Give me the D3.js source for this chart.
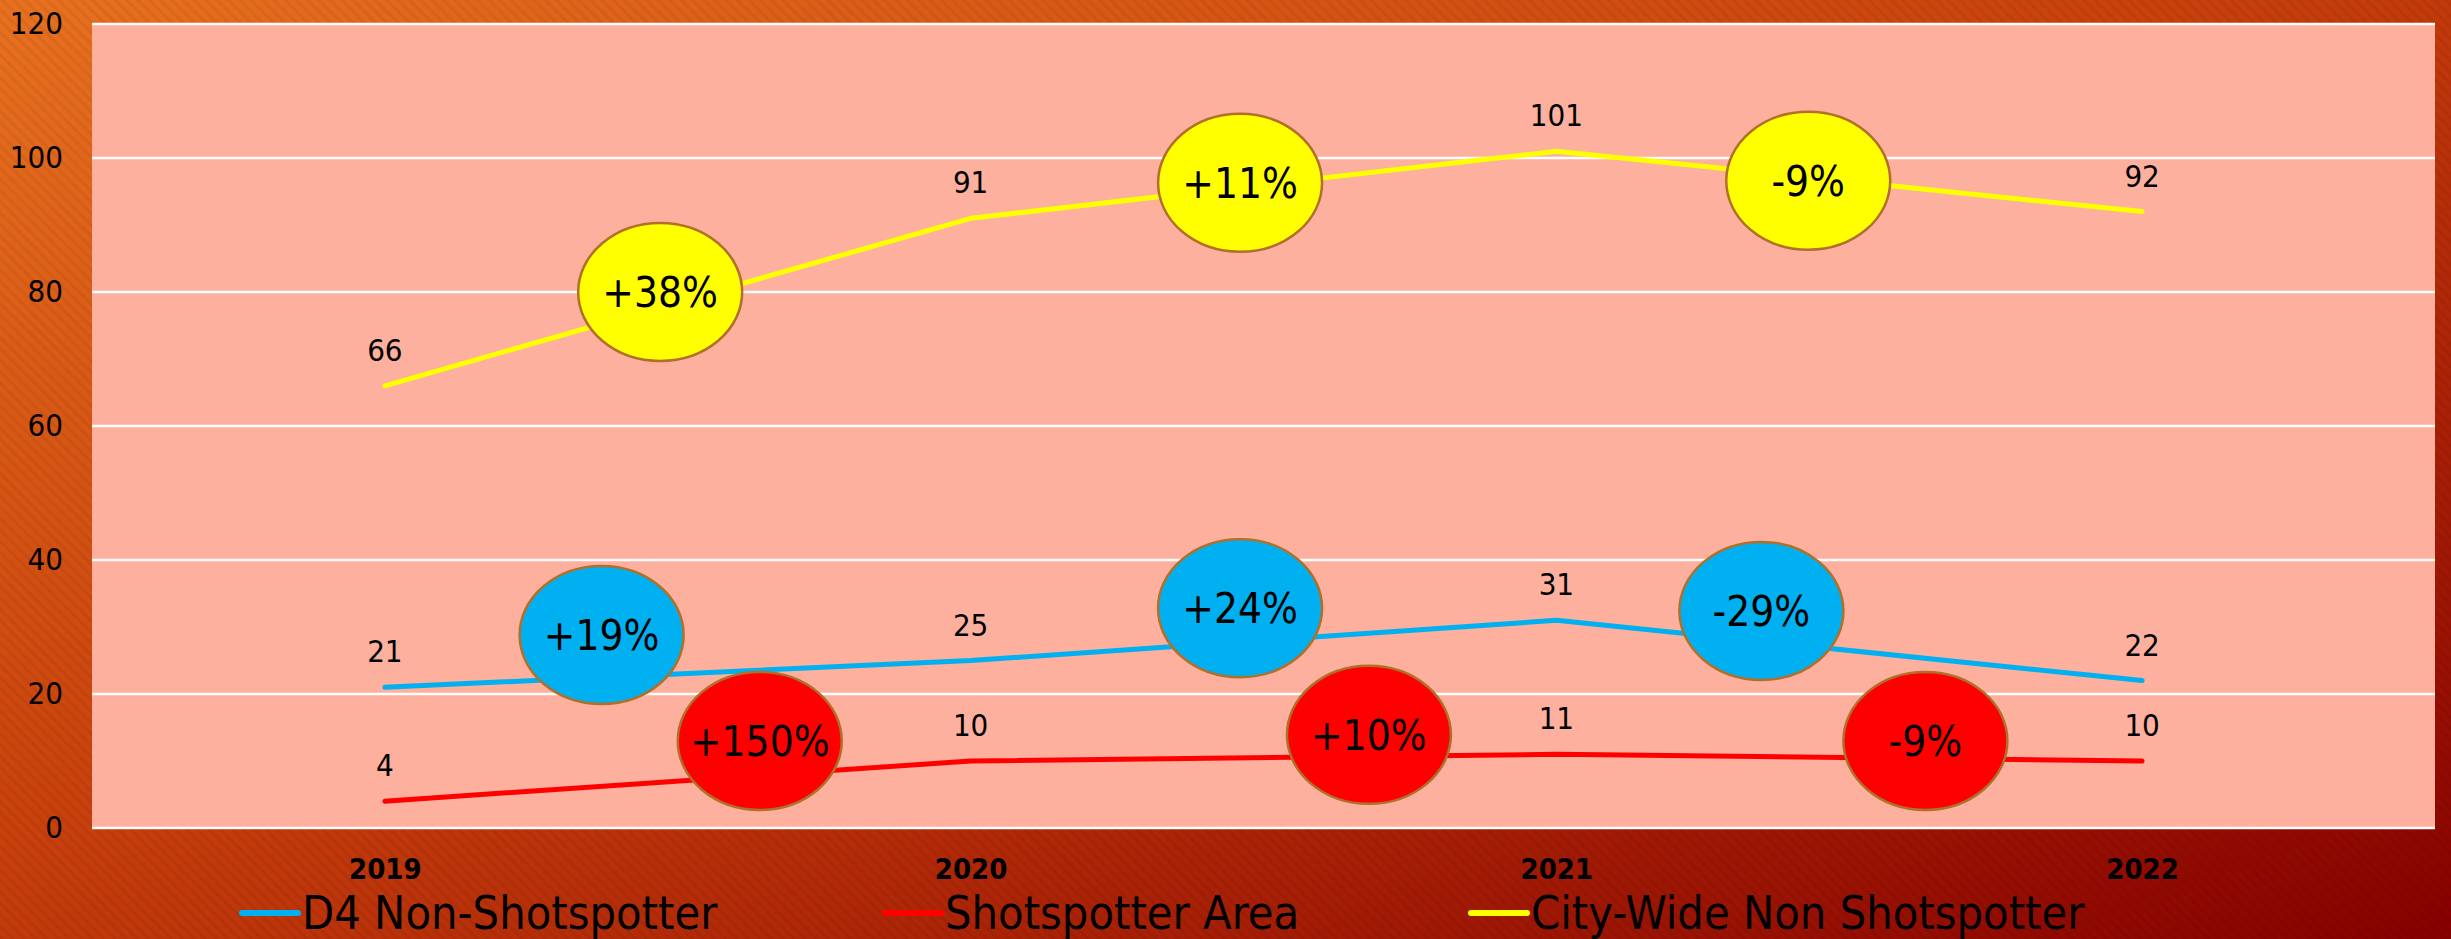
<!DOCTYPE html>
<html>
<head>
<meta charset="utf-8">
<script src="https://cdn.jsdelivr.net/npm/d3@7"></script>
<style>
  body { margin: 0; background: #8b0000; }
  svg { display: block; }
</style>
</head>
<body>
<div id="viz_container"></div>
<script>
//Data/////////////////////////////////////////////////////
const years = [2019, 2020, 2021, 2022];
const d4NonShotspotter = [21, 25, 31, 22];
const shotspotterArea = [4, 10, 11, 10];
const cityWideNonShotspotter = [66, 91, 101, 92];
const yTicks = [0, 20, 40, 60, 80, 100, 120];

// change bubbles: label, where they sit (in year / value units), which series
const bubbleLabels = ["+38%", "+11%", "-9%", "+19%", "+24%", "-29%", "+150%", "+10%", "-9%"];
const bubbleYears  = [2019.47, 2020.46, 2021.43, 2019.37, 2020.46, 2021.35, 2019.64, 2020.68, 2021.63];
const bubbleValues = [80, 96.3, 96.6, 28.8, 32.8, 32.4, 13, 13.9, 13];
const bubbleSeries = ["city", "city", "city", "d4", "d4", "d4", "shot", "shot", "shot"];

const seriesNames = ["D4 Non-Shotspotter", "Shotspotter Area", "City-Wide Non Shotspotter"];
const seriesKeys = ["d4", "shot", "city"];

// dimensions
const W = 2451, H = 939;
const margin = {top: 24, right: 16, bottom: 111, left: 92};
const width = W - margin.left - margin.right;
const height = H - margin.top - margin.bottom;

const font = "'DejaVu Sans', sans-serif";

const svg = d3.select("#viz_container")
  .append("svg")
    .attr("width", W)
    .attr("height", H)
    .style("font-family", font)
    .style("font-stretch", "condensed");

// background gradient + faint diagonal stripes
const defs = svg.append("defs");
const grad = defs.append("linearGradient")
    .attr("id", "bg")
    .attr("x1", "0%").attr("y1", "0%")
    .attr("x2", "100%").attr("y2", "100%");
grad.append("stop").attr("offset", "0%").attr("stop-color", "#e8711f");
grad.append("stop").attr("offset", "45%").attr("stop-color", "#c8400c");
grad.append("stop").attr("offset", "100%").attr("stop-color", "#870000");

const pat = defs.append("pattern")
    .attr("id", "stripes")
    .attr("width", 8).attr("height", 8)
    .attr("patternUnits", "userSpaceOnUse")
    .attr("patternTransform", "rotate(-45)");
pat.append("rect").attr("width", 3).attr("height", 8).attr("fill", "#000").attr("opacity", 0.05);

svg.append("rect").attr("width", W).attr("height", H).attr("fill", "url(#bg)");
svg.append("rect").attr("width", W).attr("height", H).attr("fill", "url(#stripes)");

const g = svg.append("g")
    .attr("transform", `translate(${margin.left},${margin.top})`);

// plot area
g.append("rect")
    .attr("width", width)
    .attr("height", height)
    .attr("fill", "#fcb09d");

// scales
const xScale = d3.scaleLinear()
    .domain([2018.5, 2022.5])
    .range([0, width]);

const yScale = d3.scaleLinear()
    .domain([0, 120])
    .range([height, 0]);

// gridlines
g.append("g")
  .selectAll("line")
  .data(yTicks)
  .join("line")
    .attr("x1", 0)
    .attr("x2", width)
    .attr("y1", d => yScale(d))
    .attr("y2", d => yScale(d))
    .attr("stroke", "#ffffff")
    .attr("stroke-width", 2.5);

// Y axis
const yAxis = g.append("g")
    .call(d3.axisLeft(yScale).tickValues(yTicks).tickSize(0).tickPadding(29));
yAxis.select(".domain").remove();
yAxis.selectAll("text")
    .style("font-family", font)
    .style("font-size", "31px")
    .attr("fill", "#000");

// X axis (year labels)
const xAxis = g.append("g")
    .attr("transform", `translate(0,${height})`)
    .call(d3.axisBottom(xScale).tickValues(years).tickFormat(d3.format("d")).tickSize(0).tickPadding(30));
xAxis.select(".domain").remove();
xAxis.selectAll("text")
    .style("font-family", font)
    .style("font-size", "29px")
    .style("font-weight", "bold")
    .attr("fill", "#000");

// series
const color = d3.scaleOrdinal()
    .domain(seriesKeys)
    .range(["#00b0f0", "#ff0000", "#ffff00"]);

const series = [
  {key: "d4", values: d4NonShotspotter},
  {key: "shot", values: shotspotterArea},
  {key: "city", values: cityWideNonShotspotter}
];

const line = d3.line()
    .x((d, i) => xScale(years[i]))
    .y(d => yScale(d));

// lines first (drawn under bubbles)
g.append("g")
  .selectAll("path")
  .data(series)
  .join("path")
    .attr("d", d => line(d.values))
    .attr("fill", "none")
    .attr("stroke", d => color(d.key))
    .attr("stroke-width", 5)
    .attr("stroke-linecap", "round")
    .attr("stroke-linejoin", "round");

// data labels
series.forEach(s => {
  g.append("g")
    .selectAll("text")
    .data(s.values)
    .join("text")
      .attr("x", (d, i) => xScale(years[i]))
      .attr("y", d => yScale(d) - 25)
      .attr("text-anchor", "middle")
      .style("font-size", "31px")
      .attr("fill", "#000")
      .text(d => d);
});

// bubbles
const bubbles = g.append("g")
  .selectAll("g")
  .data(bubbleLabels)
  .join("g")
    .attr("transform", (d, i) => `translate(${xScale(bubbleYears[i])},${yScale(bubbleValues[i])})`);

bubbles.append("ellipse")
    .attr("rx", 82)
    .attr("ry", 69)
    .attr("fill", (d, i) => color(bubbleSeries[i]))
    .attr("stroke", "#b0702a")
    .attr("stroke-width", 2.5);

bubbles.append("text")
    .attr("text-anchor", "middle")
    .attr("dy", "0.36em")
    .style("font-size", "42px")
    .attr("fill", "#000")
    .text(d => d);

// legend
const legendX = [242, 885, 1471];
const legend = svg.append("g")
  .selectAll("g")
  .data(seriesKeys)
  .join("g")
    .attr("transform", (d, i) => `translate(${legendX[i]},913)`);

legend.append("line")
    .attr("x1", 0)
    .attr("x2", 56)
    .attr("stroke", d => color(d))
    .attr("stroke-width", 6)
    .attr("stroke-linecap", "round");

legend.append("text")
    .attr("x", 60)
    .attr("y", 16)
    .style("font-size", "46.5px")
    .attr("fill", "#000")
    .text((d, i) => seriesNames[i]);
</script>
</body>
</html>
